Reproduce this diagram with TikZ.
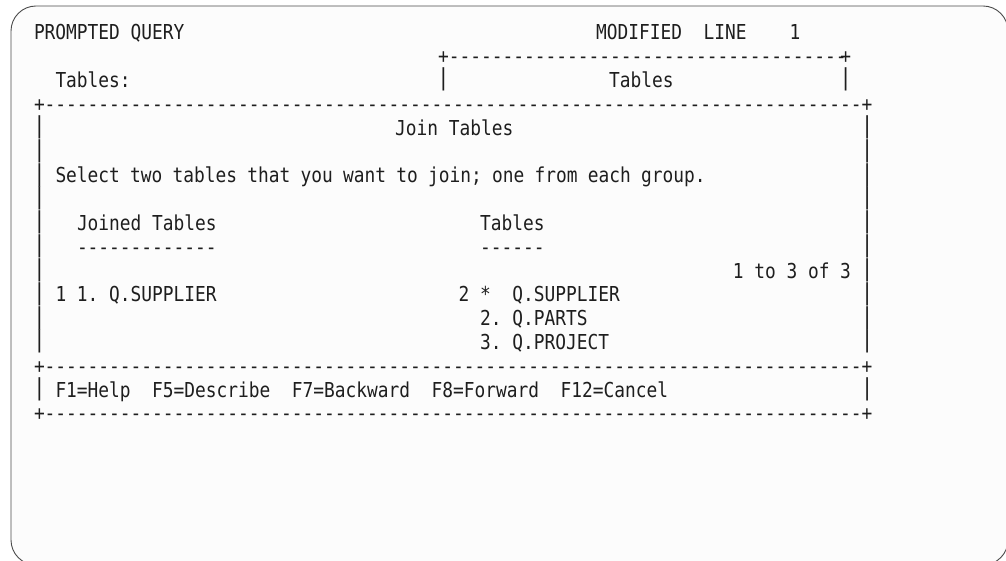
\documentclass[tikz,border=0pt]{standalone}
\usepackage{fontspec}
\setmonofont{DejaVu Sans Mono}[FakeStretch=0.8676]
\ExplSyntaxOn
\NewDocumentCommand\rdash{m}{\prg_replicate:nn{#1}{-}}
\ExplSyntaxOff
\definecolor{ink}{HTML}{1E1E1E}
\definecolor{framecol}{HTML}{4A4A4A}
\definecolor{paper}{HTML}{FCFCFC}
\tikzset{
  scr/.style={anchor=base west, inner sep=0pt, outer sep=0pt, text=ink,
    font=\ttfamily\frenchspacing\fontsize{20.58}{24}\selectfont},
  vbar/.style={anchor=base, inner sep=0pt, outer sep=0pt, text=ink,
    font=\ttfamily\fontsize{23.3}{24}\selectfont},
  screenframe/.style={draw=framecol, fill=paper, line width=0.9pt, rounded corners=25pt}
}
\newcommand\tx[4]{\node[scr] (#1) at ({34+10.75*#2},{40+23.8*#3}) {#4};}
\newcommand\vb[3]{\node[vbar] (#1) at ({34+10.75*#2+5.375},{40+23.8*#3-1.6}) {|};}
\begin{document}
\begin{tikzpicture}[x=1pt,y=-1pt]
\useasboundingbox (0,0) rectangle (1006,561);
\clip (0,0) rectangle (1006,561);
\path[screenframe] (11,6) rectangle (1008,565);
% row 0
\tx{title}{0}{0}{PROMPTED QUERY}
\tx{modline}{52.3}{0}{MODIFIED~~LINE~~~~1}
% small box
\tx{stopl}{37.6}{1}{+\rdash{37}}
\tx{stopr}{75}{1}{+}
\tx{tlabel}{2}{2}{Tables:}
\vb{sl}{37.6}{2}
\tx{stitle}{53.5}{2}{Tables}
\vb{sr}{75}{2}
% big box
\tx{btop}{0}{3}{+\rdash{76}+}
\foreach \r in {4,...,13}{\vb{lb\r}{0}{\r}\vb{rb\r}{77}{\r}}
\tx{join}{33.6}{4}{Join Tables}
\tx{select}{2}{6}{\spaceskip=10.25pt\relax Select two tables that you want to join; one from each group.}
\tx{jhead}{4}{8}{Joined Tables}
\tx{thead}{41.5}{8}{Tables}
\tx{jrule}{4}{9}{\rdash{13}}
\tx{trule}{41.5}{9}{\rdash{6}}
\tx{count}{65}{10}{1 to 3 of 3}
\tx{jrow}{2}{11}{1 1. Q.SUPPLIER}
\tx{sel}{39.5}{11}{2}
\tx{star}{41.5}{11}{*}
\tx{t1}{44.5}{11}{Q.SUPPLIER}
\tx{t2}{41.5}{12}{2. Q.PARTS}
\tx{t3}{41.5}{13}{3. Q.PROJECT}
\tx{bmid}{0}{14}{+\rdash{76}+}
\vb{fl}{0}{15}
\tx{keys}{2}{15}{F1=Help~~F5=Describe~~F7=Backward~~F8=Forward~~F12=Cancel}
\vb{fr}{77}{15}
\tx{bbot}{0}{16}{+\rdash{76}+}
\end{tikzpicture}
\end{document}
